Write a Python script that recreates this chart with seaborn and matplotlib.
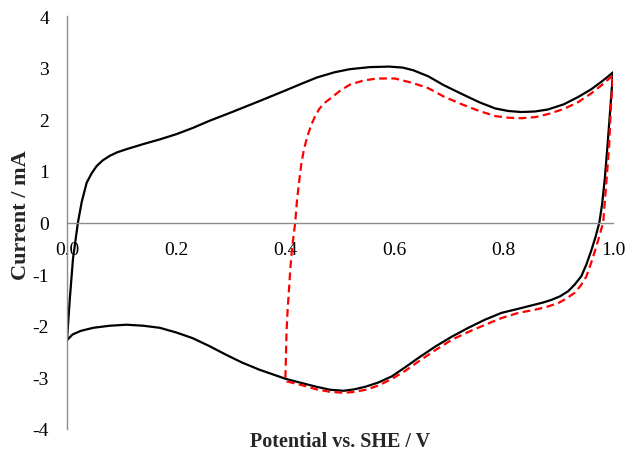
import matplotlib
matplotlib.use("Agg")
import matplotlib.pyplot as plt
import seaborn as sns
import pandas as pd

# Full window scan 0.0 V -> 1.0 V -> 0.0 V (solid black)
full_potential = [
    0.000, 0.005, 0.011, 0.020, 0.027, 0.036, 0.045, 0.054, 0.065, 0.078,
    0.092, 0.109, 0.140, 0.170, 0.200, 0.230, 0.261, 0.300, 0.352, 0.396,
    0.430, 0.458, 0.490, 0.518, 0.555, 0.590, 0.615, 0.634, 0.662, 0.690,
    0.723, 0.755, 0.784, 0.808, 0.832, 0.857, 0.881, 0.910, 0.936, 0.960,
    0.978, 0.990, 1.000,
    0.995, 0.990, 0.985, 0.980, 0.975, 0.968, 0.960, 0.951, 0.942, 0.930,
    0.918, 0.903, 0.887, 0.872, 0.857, 0.827, 0.796, 0.766, 0.735, 0.705,
    0.675, 0.644, 0.620, 0.595, 0.570, 0.547, 0.527, 0.507, 0.482, 0.456,
    0.430, 0.401, 0.352, 0.320, 0.291, 0.260, 0.230, 0.200, 0.170, 0.140,
    0.109, 0.078, 0.048, 0.025, 0.010, 0.000,
]
full_current = [
    -2.28, -1.50, -0.70, 0.00, 0.40, 0.77, 0.95, 1.09, 1.20, 1.29,
    1.36, 1.42, 1.52, 1.61, 1.71, 1.83, 1.97, 2.13, 2.35, 2.54,
    2.69, 2.81, 2.91, 2.97, 3.01, 3.02, 3.00, 2.95, 2.83, 2.66,
    2.49, 2.33, 2.21, 2.16, 2.14, 2.15, 2.19, 2.29, 2.43, 2.58,
    2.72, 2.82, 2.91,
    2.20, 1.50, 0.85, 0.35, 0.00, -0.28, -0.55, -0.82, -1.04, -1.20,
    -1.33, -1.43, -1.50, -1.55, -1.59, -1.67, -1.75, -1.88, -2.04, -2.21,
    -2.40, -2.62, -2.80, -2.98, -3.10, -3.18, -3.23, -3.26, -3.24, -3.18,
    -3.11, -3.03, -2.85, -2.71, -2.56, -2.39, -2.24, -2.13, -2.04, -2.00,
    -1.98, -2.00, -2.04, -2.10, -2.17, -2.28,
]

# Narrow window scan 0.4 V -> 1.0 V -> 0.4 V (dashed red)
narrow_potential = [
    0.400, 0.401, 0.402, 0.404, 0.407, 0.409, 0.412, 0.415, 0.418, 0.421,
    0.425, 0.429, 0.434, 0.440, 0.447, 0.454, 0.462, 0.471, 0.482, 0.500,
    0.518, 0.543, 0.568, 0.600, 0.623, 0.634, 0.662, 0.690, 0.723, 0.755,
    0.785, 0.808, 0.832, 0.857, 0.881, 0.910, 0.936, 0.960, 0.978, 0.990,
    1.000,
    0.996, 0.993, 0.988, 0.982, 0.974, 0.967, 0.960, 0.951, 0.941, 0.930,
    0.915, 0.900, 0.880, 0.857, 0.827, 0.796, 0.766, 0.735, 0.705, 0.675,
    0.644, 0.620, 0.595, 0.570, 0.547, 0.527, 0.507, 0.482, 0.456, 0.430,
    0.403, 0.400,
]
narrow_current = [
    -3.01, -2.60, -2.14, -1.70, -1.23, -0.90, -0.52, -0.25, 0.00, 0.40,
    0.78, 1.12, 1.42, 1.66, 1.88, 2.05, 2.20, 2.31, 2.40, 2.55,
    2.67, 2.75, 2.79, 2.79, 2.73, 2.70, 2.60, 2.44, 2.29, 2.16,
    2.06, 2.03, 2.02, 2.04, 2.10, 2.20, 2.33, 2.50, 2.65, 2.76,
    2.85,
    2.20, 1.50, 0.80, 0.00, -0.30, -0.55, -0.78, -1.05, -1.22, -1.36,
    -1.47, -1.56, -1.63, -1.69, -1.75, -1.85, -1.98, -2.12, -2.27, -2.47,
    -2.69, -2.87, -3.03, -3.16, -3.24, -3.28, -3.30, -3.28, -3.23, -3.15,
    -3.08, -3.01,
]

x_ticks = [0.0, 0.2, 0.4, 0.6, 0.8, 1.0]
x_tick_labels = ["0.0", "0.2", "0.4", "0.6", "0.8", "1.0"]
y_ticks = [-4, -3, -2, -1, 0, 1, 2, 3, 4]

full_df = pd.DataFrame({"potential": full_potential, "current": full_current})
narrow_df = pd.DataFrame({"potential": narrow_potential, "current": narrow_current})

sns.set_style("white")
plt.rcParams["font.family"] = ["Liberation Serif", "DejaVu Serif"]

fig = plt.figure(figsize=(6.27, 4.52), dpi=100)
ax = fig.add_axes([67 / 627, 1 - 430 / 452, 546 / 627, 413 / 452])

line_kw = dict(sort=False, estimator=None, linewidth=1.6, ax=ax)
sns.lineplot(data=full_df, x="potential", y="current", color="black", **line_kw)
sns.lineplot(data=narrow_df, x="potential", y="current", color="#ff0000", **line_kw)
ax.lines[-1].set_dashes([3.5, 2.0])
for ln in ax.lines:
    ln.set_solid_joinstyle("round")
    ln.set_dash_joinstyle("round")

ax.set_xlim(0.0, 1.0)
ax.set_ylim(-4, 4)
ax.set_xticks(x_ticks)
ax.set_xticklabels(x_tick_labels)
ax.set_yticks(y_ticks)
ax.set_yticklabels([str(v) for v in y_ticks])

axis_grey = "#8c8c8c"
for side in ("top", "right"):
    ax.spines[side].set_visible(False)
ax.spines["bottom"].set_position(("data", 0))
for side in ("left", "bottom"):
    ax.spines[side].set_color(axis_grey)
    ax.spines[side].set_linewidth(1.0)

ax.tick_params(axis="x", direction="in", length=5, width=1.0, color=axis_grey,
               labelsize=14, labelcolor="black", pad=13)
ax.tick_params(axis="y", direction="out", length=5, width=1.0, color=axis_grey,
               labelsize=14, labelcolor="black", pad=8)

ax.set_xlabel("Potential vs. SHE / V", fontsize=14.5, fontweight="bold")
ax.set_ylabel("Current / mA", fontsize=16, fontweight="bold")
ax.xaxis.set_label_coords(0.5, -0.005)
ax.yaxis.set_label_coords(-0.066, 0.52)

fig.savefig("out.png", dpi=100)
